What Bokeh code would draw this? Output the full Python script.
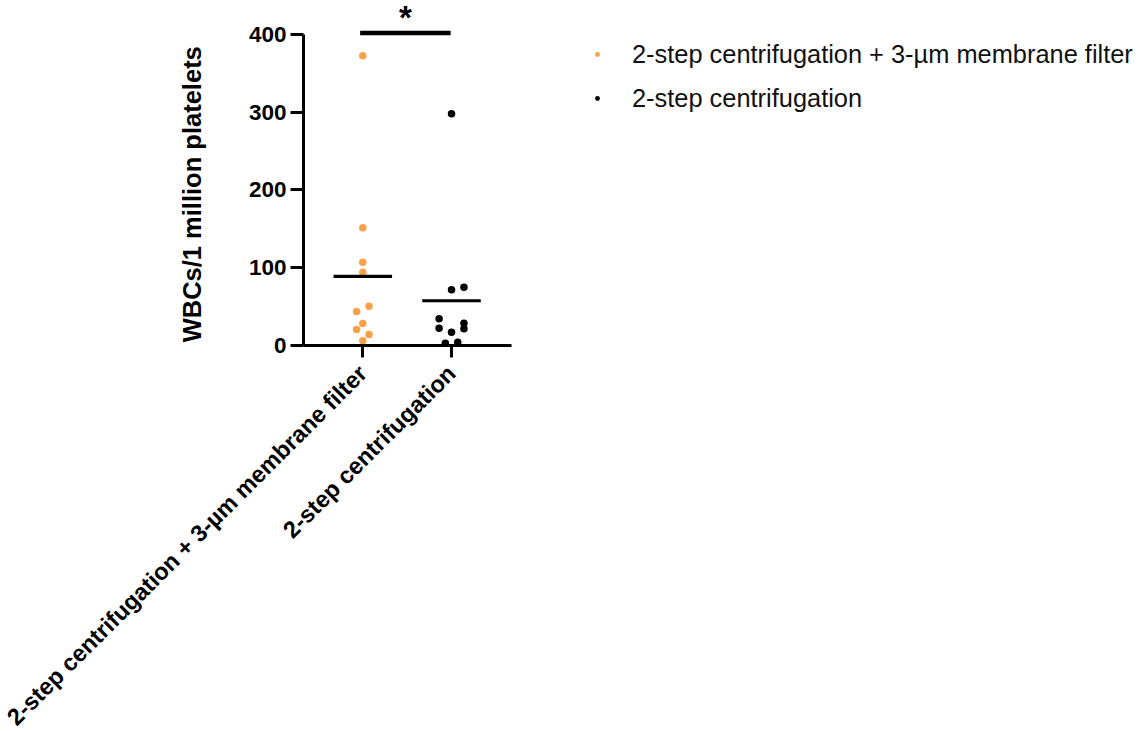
import math
import numpy as np
from bokeh.plotting import figure
from bokeh.models import Range1d, FixedTicker, Legend, LegendItem, ColumnDataSource
from bokeh.core.properties import value
from bokeh.embed import file_html
from bokeh.resources import INLINE

# ---- data ----
groups = ["2-step centrifugation + 3-µm membrane filter", "2-step centrifugation"]
filter_values = [372.6, 151.4, 107.1, 94.3, 50.5, 43.7, 28.3, 20.6, 14.1, 6.0]
filter_jitter = [0, 0, 0, 0, 0.07, -0.07, 0, -0.07, 0.07, 0]
centri_values = [298.0, 75.0, 71.6, 34.3, 28.7, 22.3, 21.5, 17.1, 3.0, 4.2]
centri_jitter = [0, 0.14, 0, -0.14, 0.14, -0.14, 0.14, 0, -0.07, 0.07]
y_ticks = [0, 100, 200, 300, 400]
y_title = "WBCs/1 million platelets"
sig_label = "*"
sig_level = 402

ORANGE = "#FAA046"
BLACK = "#000000"
FONT = "Liberation Sans"

group_pos = [1, 2]

p = figure(
    frame_width=208, frame_height=345,
    min_border_left=303, min_border_right=625,
    min_border_top=0, min_border_bottom=380,
    x_range=Range1d(0.3315, 2.676), y_range=Range1d(0, 443.7),
    output_backend="svg", toolbar_location=None,
)
p.outline_line_color = None
p.xgrid.visible = False
p.ygrid.visible = False
p.background_fill_color = "white"
p.border_fill_color = "white"

src1 = ColumnDataSource(dict(x=[group_pos[0] + j for j in filter_jitter], y=filter_values))
src2 = ColumnDataSource(dict(x=[group_pos[1] + j for j in centri_jitter], y=centri_values))
r1 = p.scatter("x", "y", source=src1, size=7.5, color=ORANGE, line_color=None)
r2 = p.scatter("x", "y", source=src2, size=7.5, color=BLACK, line_color=None)

means = [float(np.mean(filter_values)), float(np.mean(centri_values))]
p.segment(x0=[g - 0.33 for g in group_pos], x1=[g + 0.33 for g in group_pos],
          y0=means, y1=means, line_color="black", line_width=3.2)

# significance bar
p.segment(x0=[group_pos[0] - 0.03], x1=[group_pos[1] - 0.01], y0=[sig_level], y1=[sig_level],
          line_color="black", line_width=4.5)
p.text(x=[1.48], y=[sig_level + 20], text=[sig_label], text_align="center",
       text_baseline="alphabetic", text_font=value(FONT), text_font_style="bold",
       text_font_size="33px", text_color="black")

# axes
xa = p.xaxis[0]
xa.ticker = FixedTicker(ticks=group_pos)
xa.major_label_overrides = {group_pos[0]: groups[0], group_pos[1]: groups[1]}
xa.major_label_orientation = math.pi / 4
xa.major_label_text_font = FONT
xa.major_label_text_font_style = "bold"
xa.major_label_text_font_size = "23.5px"
xa.major_label_text_color = "black"
xa.major_label_standoff = 12
xa.axis_line_width = 3
xa.major_tick_line_width = 3
xa.major_tick_out = 12
xa.major_tick_in = 0
xa.minor_tick_line_color = None

ya = p.yaxis[0]
ya.ticker = FixedTicker(ticks=y_ticks)
ya.bounds = (0, 400)
# trailing no-break spaces centre the title on the 0-400 axis line rather than the frame
ya.axis_label = y_title + "\u00a0" * 6
ya.axis_label_text_font = FONT
ya.axis_label_text_font_style = "bold"
ya.axis_label_text_font_size = "25.5px"
ya.axis_label_text_color = "black"
ya.axis_label_standoff = 40
ya.major_label_text_font = FONT
ya.major_label_text_font_style = "bold"
ya.major_label_text_font_size = "22.5px"
ya.major_label_text_color = "black"
ya.major_label_standoff = 4
ya.axis_line_width = 3
ya.major_tick_line_width = 3
ya.major_tick_out = 13
ya.major_tick_in = 0
ya.minor_tick_line_color = None

legend = Legend(
    items=[LegendItem(label=groups[0], renderers=[r1]),
           LegendItem(label=groups[1], renderers=[r2])],
    location=(80, 225),
    glyph_width=12, glyph_height=44, label_height=30, spacing=-2,
    padding=0, margin=0, label_standoff=29,
    label_text_font=FONT, label_text_font_size="25.4px", label_text_color="#111111",
    label_text_baseline="middle",
    border_line_color=None, background_fill_alpha=0,
)
p.add_layout(legend, "right")

open("out.html", "w").write(file_html(p, INLINE))
